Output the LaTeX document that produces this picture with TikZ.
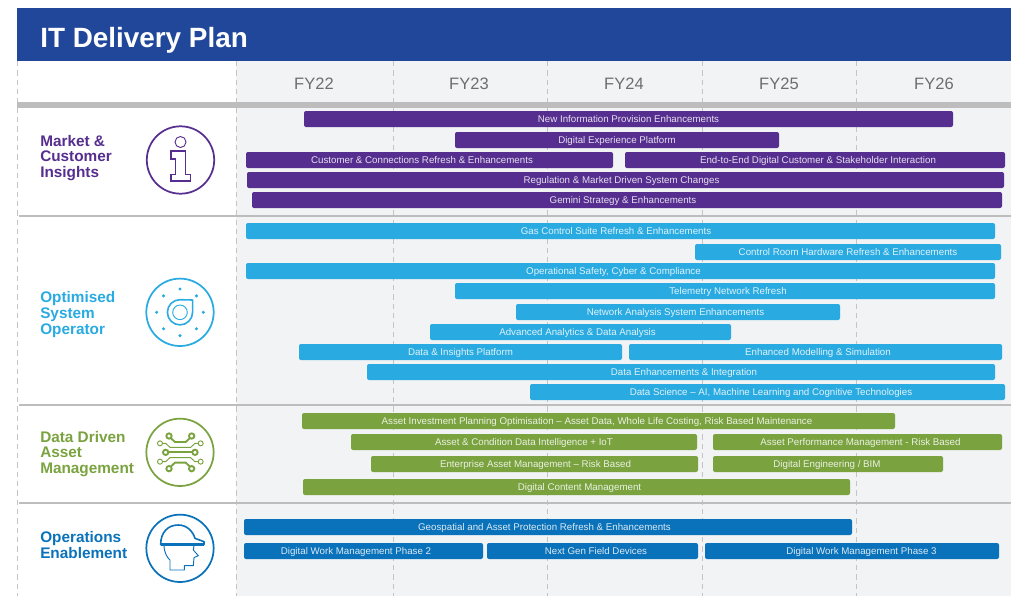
\documentclass[tikz,border=0pt]{standalone}
\usepackage{fontspec}
\setmainfont{Liberation Sans}
\definecolor{cPurple}{HTML}{552E8F}
\definecolor{cSky}{HTML}{29ABE2}
\definecolor{cGreen}{HTML}{7AA33F}
\definecolor{cBlue}{HTML}{0A72BA}
\definecolor{cBand}{HTML}{20479A}
\definecolor{cPane}{HTML}{F2F3F5}
\definecolor{cRule}{HTML}{BDBDBD}
\definecolor{cDash}{HTML}{C4C4C4}
\definecolor{cYear}{HTML}{6D6E71}
\tikzset{
  bartext/.style={font=\fontsize{7.3pt}{8pt}\selectfont,text=white,text opacity=.85,inner sep=0pt,outer sep=0pt,
    minimum height=12pt,rounded corners=1.5pt,anchor=center,text height=5.6pt,text depth=0pt},
  sectlabel/.style={font=\fontsize{11.5pt}{11.7pt}\selectfont\bfseries,anchor=west,align=left,inner sep=0pt},
  yearlabel/.style={font=\fontsize{12.4pt}{14pt}\selectfont,text=cYear,inner sep=0pt,text height=9pt,text depth=0pt},
  griddash/.style={cDash,line width=.75pt,dash pattern=on 4pt off 3pt},
  iconthick/.style={line width=1.3pt},
  iconthin/.style={line width=.7pt},
}
\newcommand{\ganttbar}[7]{%name,x1,x2,y,colour,text,text shift px
  \pgfmathsetmacro{\gcx}{(#2+#3)/2}\pgfmathsetmacro{\gw}{(#3-#2)*0.75}\pgfmathsetmacro{\gd}{2*0.75*#7}
  \node[bartext,fill=#5,minimum width=\gw pt] (#1) at (\gcx,#4) {\makebox[0pt][c]{\hspace{\gd pt}#6}};}
\begin{document}
\begin{tikzpicture}[x=.75pt,y=-.75pt]
\useasboundingbox (0,0) rectangle (1011,596);
\fill[white] (0,0) rectangle (1011,596);
\fill[cPane] (236,61) rectangle (1011,596);
\foreach \gx in {17,236,393,547,702,856} \draw[griddash] (\gx,61) -- (\gx,596);
\fill[cBand] (17,8) rectangle (1011,61);
\node[font=\fontsize{20.9pt}{24pt}\selectfont\bfseries,text=white,anchor=base west,inner sep=0pt] (title) at (40,47) {IT Delivery Plan};
\fill[cRule] (17,102) rectangle (1011,108);
\foreach \gy in {216,405,503} \fill[cRule] (19,\gy-.8) rectangle (1011,\gy+.8);
\node[yearlabel] (fy22) at (314,83) {FY22};
\node[yearlabel] (fy23) at (469,83) {FY23};
\node[yearlabel] (fy24) at (624,83) {FY24};
\node[yearlabel] (fy25) at (779,83) {FY25};
\node[yearlabel] (fy26) at (934,83) {FY26};
\node[sectlabel,text=cPurple] (s1) at (40,158) {Market \&\\Customer\\Insights};
\node[sectlabel,text=cSky] (s2) at (40,314.5) {Optimised\\System\\Operator};
\node[sectlabel,text=cGreen] (s3) at (40,454) {Data Driven\\Asset\\Management};
\node[sectlabel,text=cBlue] (s4) at (40,545) {Operations\\Enablement};
% bars
\ganttbar{p1}{304}{953}{119}{cPurple}{New Information Provision Enhancements}{0}
\ganttbar{p2}{455}{779}{140}{cPurple}{Digital Experience Platform}{0}
\ganttbar{p3}{246}{613}{160}{cPurple}{Customer \& Connections Refresh \& Enhancements}{-7.5}
\ganttbar{p4}{625}{1005}{160}{cPurple}{End-to-End Digital Customer \& Stakeholder Interaction}{3}
\ganttbar{p5}{247}{1004}{180}{cPurple}{Regulation \& Market Driven System Changes}{-4}
\ganttbar{p6}{252}{1002}{200}{cPurple}{Gemini Strategy \& Enhancements}{-4}
\ganttbar{b1}{246}{995}{231}{cSky}{Gas Control Suite Refresh \& Enhancements}{-4.5}
\ganttbar{b2}{695}{1001}{252}{cSky}{Control Room Hardware Refresh \& Enhancements}{0}
\ganttbar{b3}{246}{995}{271}{cSky}{Operational Safety, Cyber \& Compliance}{-7}
\ganttbar{b4}{455}{995}{291}{cSky}{Telemetry Network Refresh}{3}
\ganttbar{b5}{516}{840}{312}{cSky}{Network Analysis System Enhancements}{-2.5}
\ganttbar{b6}{430}{731}{332}{cSky}{Advanced Analytics \& Data Analysis}{-3}
\ganttbar{b7}{299}{622}{352}{cSky}{Data \& Insights Platform}{0}
\ganttbar{b8}{629}{1002}{352}{cSky}{Enhanced Modelling \& Simulation}{2.5}
\ganttbar{b9}{367}{995}{372}{cSky}{Data Enhancements \& Integration}{3}
\ganttbar{b10}{530}{1005}{392}{cSky}{Data Science – AI, Machine Learning and Cognitive Technologies}{3.5}
\ganttbar{g1}{302}{895}{421}{cGreen}{Asset Investment Planning Optimisation – Asset Data, Whole Life Costing, Risk Based Maintenance}{-1.5}
\ganttbar{g2}{351}{697}{442}{cGreen}{Asset \& Condition Data Intelligence + IoT}{0}
\ganttbar{g3}{713}{1002}{442}{cGreen}{Asset Performance Management - Risk Based}{3}
\ganttbar{g4}{371}{698}{464}{cGreen}{Enterprise Asset Management – Risk Based}{1}
\ganttbar{g5}{713}{943}{464}{cGreen}{Digital Engineering / BIM}{-1}
\ganttbar{g6}{303}{850}{487}{cGreen}{Digital Content Management}{3}
\ganttbar{d1}{244}{852}{527}{cBlue}{Geospatial and Asset Protection Refresh \& Enhancements}{-3.5}
\ganttbar{d2}{244}{483}{551}{cBlue}{Digital Work Management Phase 2}{-7.5}
\ganttbar{d3}{487}{698}{551}{cBlue}{Next Gen Field Devices}{3.5}
\ganttbar{d4}{705}{999}{551}{cBlue}{Digital Work Management Phase 3}{9.5}
% info icon
\draw[cPurple,iconthick] (180.5,160) circle (33.7);
\draw[cPurple,iconthin] (180.5,142) circle (5.5);
\draw[cPurple,line width=1pt] (171,151) -- (185.7,151) -- (185.7,174.3) -- (190.3,174.3) -- (190.3,181) -- (171,181) -- (171,174.3) -- (175.7,174.3) -- (175.7,159) -- (171,159) -- cycle;
% gas icon
\draw[cSky,iconthick] (180,312.3) circle (33.7);
\draw[cSky,line width=1.2pt,line join=round] (192.6,300) -- (192.6,312.3) arc[start angle=0,end angle=270,radius=12.6] -- cycle;
\draw[cSky,iconthin] (180,312.3) circle (7.3);
\foreach \ga in {0,45,...,315} \fill[cSky] (180,312.3) ++(\ga:23.3) circle (1.7);
% circuit icon
\begin{scope}[shift={(130,410)},x=.25pt,y=-.25pt,cGreen]
\draw[iconthick] (150,127) circle (101);
\foreach \gy/\gs in {78/1,176/-1}{
  \draw[line width=1.4pt] (117,\gy) circle (8) (185,\gy) circle (8);
  \draw[line width=1.4pt] (122,\gy+\gs*6) -- (135,\gy+\gs*18) -- (167,\gy+\gs*18) -- (180,\gy+\gs*6);
}
\foreach \gy/\gs in {100/1,155/-1}{
  \draw[iconthin] (90,\gy) circle (7.5) (212,\gy) circle (7.5);
  \draw[iconthin] (97,\gy) -- (107,\gy) -- (120,\gy+\gs*12) -- (182,\gy+\gs*12) -- (195,\gy) -- (205,\gy);
}
\draw[line width=1.4pt] (107,127) circle (8) (195,127) circle (8);
\draw[line width=1.5pt] (115,127) -- (187,127);
\end{scope}
% helmet icon
\begin{scope}[shift={(130,505)},x=.25pt,y=-.25pt,cBlue]
\draw[iconthick] (150,130) circle (101);
\draw[line width=1.2pt,line join=round] (92,119) .. controls (92,80) and (115,60) .. (145,60) .. controls (170,60) and (188,78) .. (195,100) -- (222,110) -- (222,119) -- cycle;
\draw[line width=1.8pt] (92,118) -- (222,118);
\draw[iconthin,line join=round] (102,122) .. controls (103,145) and (112,158) .. (120,165) -- (120,195) -- (163,195) -- (163,182) -- (190,182) -- (192,158) -- (205,152) -- (190,135) -- (192,122);
\end{scope}
\end{tikzpicture}
\end{document}
